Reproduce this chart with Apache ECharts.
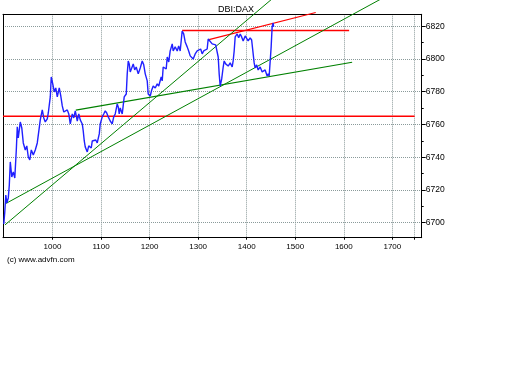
<!DOCTYPE html>
<html>
<head>
<meta charset="utf-8">
<script src="https://cdn.jsdelivr.net/npm/echarts@6/dist/echarts.min.js"></script>
<style>html,body{margin:0;padding:0;background:#fff}#c{width:512px;height:384px}</style>
</head>
<body>
<div id="c"></div>
<script>
// time axis (HHMM-style values)
var times = [899.6,901.7,903.8,905.8,908.9,911.0,913.0,916.1,919.2,922.3,925.4,927.4,929.5,933.6,936.7,939.8,943.9,947.0,950.1,953.2,956.3,960.4,964.5,968.6,971.7,974.8,978.9,982.0,985.1,989.2,991.3,995.4,997.4,1000.5,1003.6,1006.7,1009.8,1013.9,1017.0,1020.1,1023.2,1026.3,1030.4,1033.5,1036.6,1040.7,1043.8,1046.9,1051.0,1054.1,1057.1,1061.3,1063.3,1065.4,1067.4,1071.6,1074.6,1076.7,1079.8,1081.9,1086.0,1089.1,1092.1,1094.2,1096.3,1098.3,1102.4,1105.5,1108.6,1111.7,1114.8,1118.9,1123.0,1126.1,1129.2,1133.3,1135.4,1137.4,1139.5,1143.6,1145.7,1147.7,1151.9,1153.9,1156.0,1158.0,1160.1,1163.2,1166.3,1169.3,1172.4,1176.6,1180.7,1184.8,1187.9,1191.0,1195.1,1197.1,1201.3,1204.4,1207.4,1211.6,1215.7,1218.8,1221.9,1223.9,1226.0,1228.0,1232.1,1234.2,1236.3,1239.4,1242.4,1246.6,1248.6,1252.7,1256.9,1259.9,1263.0,1267.1,1270.2,1273.3,1277.4,1280.5,1283.6,1286.7,1289.8,1293.9,1298.0,1301.1,1305.2,1308.3,1311.4,1315.5,1318.6,1320.7,1324.8,1328.9,1333.0,1336.1,1339.2,1341.3,1343.3,1345.4,1348.5,1351.6,1353.6,1356.7,1359.8,1361.9,1366.0,1370.1,1372.1,1374.2,1376.3,1380.4,1383.5,1386.6,1389.6,1392.7,1396.9,1399.9,1403.0,1407.1,1410.2,1413.3,1415.4,1417.4,1420.5,1423.6,1427.7,1431.9,1436.0,1438.0,1442.1,1444.2,1446.3,1450.4,1452.4,1454.5,1455.5];
// DAX price
var prices = [6699.2,6706.5,6716.9,6712.0,6715.1,6723.0,6737.1,6727.9,6731.0,6727.3,6744.4,6758.5,6751.8,6761.5,6757.9,6748.7,6744.4,6746.9,6740.1,6738.3,6744.4,6741.4,6744.4,6748.7,6747.5,6762.8,6768.9,6764.0,6761.5,6763.4,6767.0,6776.8,6789.0,6784.8,6779.9,6782.3,6776.8,6782.3,6777.4,6771.3,6767.6,6766.4,6768.9,6766.4,6760.3,6766.4,6764.0,6768.3,6762.1,6766.4,6762.8,6760.3,6756.0,6749.9,6746.3,6743.2,6746.9,6748.1,6745.6,6749.9,6748.7,6750.5,6748.7,6749.9,6754.2,6760.3,6764.6,6766.4,6768.3,6767.0,6764.6,6762.1,6760.3,6764.6,6766.4,6772.5,6770.7,6766.4,6770.1,6766.4,6765.2,6776.8,6778.6,6790.9,6798.8,6797.0,6792.1,6793.3,6797.0,6793.3,6795.1,6790.9,6794.5,6798.8,6796.4,6790.9,6786.6,6778.6,6777.4,6781.1,6783.5,6782.3,6784.8,6783.5,6782.9,6789.0,6786.6,6795.1,6795.7,6793.9,6801.2,6798.2,6804.9,6809.2,6804.9,6807.4,6804.9,6808.0,6804.9,6817.1,6815.3,6810.4,6807.4,6804.9,6801.9,6803.1,6800.0,6803.1,6804.9,6803.7,6806.1,6803.1,6804.9,6804.3,6806.1,6812.2,6811.0,6809.2,6810.4,6808.6,6809.2,6801.2,6790.9,6783.5,6787.8,6795.1,6798.8,6797.0,6798.2,6795.7,6797.6,6795.1,6798.8,6804.9,6813.5,6815.3,6812.9,6815.3,6813.5,6811.0,6814.1,6812.9,6811.0,6812.9,6811.6,6810.4,6797.6,6794.5,6796.4,6793.3,6795.1,6792.1,6790.9,6793.3,6789.6,6790.9,6789.6,6807.4,6819.6,6822.0,6819.6];
// trend lines [x1, y1, x2, y2]
var redLow = [898, 6765, 1746, 6765];
var redTop = [1267, 6817.4, 1611, 6817.4];
var redSlope = [1322.3, 6811.8, 1542.2, 6828.4];
var greenA = [902, 6698.6, 1461, 6838.9];
var greenB = [902, 6711.4, 1695.4, 6839.7];
var greenC = [1048, 6768.7, 1617.2, 6798.0];
// tick labels
var xTickLabels = [1000, 1100, 1200, 1300, 1400, 1500, 1600, 1700];
var xGridExtra = [1745];
var yTickLabels = [6700, 6720, 6740, 6760, 6780, 6800, 6820];
var yMinorTicks = [6710, 6730, 6750, 6770, 6790, 6810];

var FONT = 'Liberation Sans, Arial, sans-serif';
var priceData = times.map(function (t, i) { return [t, prices[i]]; });
function seg(a) { return [[a[0], a[1]], [a[2], a[3]]]; }
function trend(a, color, w) {
  return { type: 'line', data: seg(a), symbol: 'none', clip: false, silent: true,
    lineStyle: { color: color, width: w }, z: 3 };
}
function plain(v) { return String(v); }
var XMIN = 898, XMAX = 1760.5, YMIN = 6690.8, YMAX = 6827.3;
var gridLine = { show: true, lineStyle: { color: '#8a9a9a', type: [1, 1], width: 1 } };

var chart = echarts.init(document.getElementById('c'), null, { renderer: 'canvas' });
chart.setOption({
  backgroundColor: '#fff',
  animation: false,
  title: [
    { text: 'DBI:DAX', left: 213, top: 0, textStyle: { fontFamily: FONT, fontSize: 9, fontWeight: 'normal', color: '#000' } },
    { text: '(c) www.advfn.com', left: 2, top: 251, textStyle: { fontFamily: FONT, fontSize: 8, fontWeight: 'normal', color: '#000' } }
  ],
  grid: { left: 3, top: 14.3, right: 90.3, bottom: 146.3, containLabel: false },
  xAxis: [
    { type: 'value', position: 'bottom', min: XMIN, max: XMAX,
      axisLine: { show: true, lineStyle: { color: '#000', width: 1 } },
      axisTick: { show: true, inside: false, length: 2, customValues: xTickLabels.concat(xGridExtra), lineStyle: { color: '#000' } },
      axisLabel: { show: true, customValues: xTickLabels, formatter: plain, fontFamily: FONT, fontSize: 8, color: '#000', margin: 5 },
      splitLine: gridLine },
    { type: 'value', position: 'top', min: XMIN, max: XMAX,
      axisLine: { show: true, onZero: false, lineStyle: { color: '#000', width: 1 } },
      axisTick: { show: false }, axisLabel: { show: false }, splitLine: { show: false } }
  ],
  yAxis: [
    { type: 'value', position: 'right', min: YMIN, max: YMAX,
      axisLine: { show: true, lineStyle: { color: '#000', width: 1 } },
      axisTick: { show: true, length: 4, customValues: yTickLabels, lineStyle: { color: '#000' } },
      axisLabel: { show: true, customValues: yTickLabels, formatter: plain, fontFamily: FONT, fontSize: 8.5, color: '#000', margin: 4 },
      splitLine: gridLine },
    { type: 'value', position: 'left', min: YMIN, max: YMAX,
      axisLine: { show: true, onZero: false, lineStyle: { color: '#000', width: 1 } },
      axisTick: { show: false }, axisLabel: { show: false }, splitLine: { show: false } },
    { type: 'value', position: 'right', min: YMIN, max: YMAX,
      axisLine: { show: false },
      axisTick: { show: true, length: 2, customValues: yMinorTicks, lineStyle: { color: '#000' } },
      axisLabel: { show: false }, splitLine: { show: false } }
  ],
  series: [
    trend(redLow, '#ff0000', 1.5),
    trend(redTop, '#ff0000', 1.5),
    trend(redSlope, '#ff0000', 1.2),
    trend(greenA, '#008000', 1),
    trend(greenB, '#008000', 1),
    trend(greenC, '#008000', 1.2),
    { type: 'line', data: priceData, symbol: 'none', clip: false, silent: true,
      lineStyle: { color: '#2020ff', width: 1.4 }, z: 4 }
  ]
});
</script>
</body>
</html>
